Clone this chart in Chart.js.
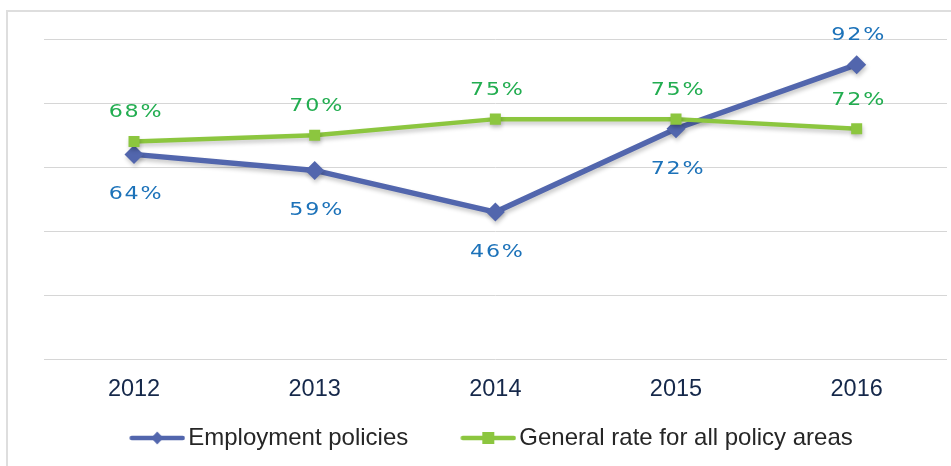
<!DOCTYPE html>
<html><head><meta charset="utf-8">
<script src="https://cdn.jsdelivr.net/npm/chart.js@4/dist/chart.umd.min.js"></script>
<style>
html,body{margin:0;padding:0;background:#fff;overflow:hidden;}
#wrap{position:relative;width:951px;height:466px;overflow:hidden;}
#frame{position:absolute;left:6px;top:10px;width:1000px;height:1000px;border-left:2px solid #dedede;border-top:2px solid #dedede;box-sizing:border-box;}
canvas{position:absolute;left:0;top:0;}
</style></head><body>
<div id="wrap"><div id="frame"></div><canvas id="c" width="951" height="466"></canvas></div>
<script>
// ---- data ----
const categories = ['2012', '2013', '2014', '2015', '2016'];
const employmentPolicies = [64, 59, 46, 72, 92];
const generalRate = [68, 70, 75, 75, 72];
const seriesNames = ['Employment policies', 'General rate for all policy areas'];
const yTicks = [0, 20, 40, 60, 80, 100];
// where each value label sits relative to its point
const employmentLabelSide = ['below', 'below', 'below', 'below', 'above'];
const generalLabelSide = ['above', 'above', 'above', 'above', 'above'];

const BLUE = '#5266ad', GREEN = '#8cc63f';
const BLUE_TXT = '#1c72b9', GREEN_TXT = '#22ad50';

function makeSymbol(color, shape, totalW, contentW) {
  const c = document.createElement('canvas');
  c.width = totalW; c.height = 20;
  const g = c.getContext('2d');
  const x0 = totalW - contentW + 2.5, x1 = totalW - 2.5, y = 10;
  g.strokeStyle = color; g.lineWidth = 4.5; g.lineCap = 'round';
  g.beginPath(); g.moveTo(x0, y); g.lineTo(x1, y); g.stroke();
  const cx = (x0 + x1) / 2;
  g.fillStyle = color;
  g.beginPath();
  if (shape === 'diamond') {
    g.moveTo(cx - 6, y); g.lineTo(cx, y - 6.5); g.lineTo(cx + 6, y); g.lineTo(cx, y + 6.5); g.closePath();
  } else {
    g.rect(cx - 6, y - 6, 12, 12);
  }
  g.fill();
  return c;
}
const LEG_BOX = 82, LEG_IMG = 100, LEG_CONTENT = 56, LEG_PAD = 17;
const legendSymbols = [makeSymbol(BLUE, 'diamond', LEG_IMG, LEG_CONTENT), makeSymbol(GREEN, 'square', LEG_IMG, LEG_CONTENT)];

const shadowPlugin = {
  id: 'lineShadow',
  beforeDatasetsDraw(chart) {
    const ctx = chart.ctx;
    ctx.save();
    ctx.shadowColor = 'rgba(0,0,0,0.22)';
    ctx.shadowBlur = 4;
    ctx.shadowOffsetX = 1;
    ctx.shadowOffsetY = 3;
  },
  afterDatasetsDraw(chart) {
    chart.ctx.restore();
  }
};

const labelPlugin = {
  id: 'valueLabels',
  afterDatasetsDraw(chart) {
    const ctx = chart.ctx;
    chart.data.datasets.forEach((ds, i) => {
      const meta = chart.getDatasetMeta(i);
      meta.data.forEach((pt, j) => {
        const side = ds.labelSide[j];
        const dy = side === 'above' ? -29 : 40;
        ctx.save();
        ctx.font = '18.5px "DejaVu Sans"';
        ctx.letterSpacing = '1.5px';
        ctx.textAlign = 'center';
        ctx.textBaseline = 'middle';
        ctx.fillStyle = ds.labelColor;
        ctx.translate(pt.x + 2, pt.y + dy);
        ctx.scale(1.2, 1);
        ctx.fillText(ds.data[j] + '%', 0, 0);
        ctx.restore();
      });
    });
  }
};

new Chart(document.getElementById('c'), {
  type: 'line',
  data: {
    labels: categories,
    datasets: [
      {
        label: seriesNames[0], data: employmentPolicies,
        borderColor: BLUE, backgroundColor: BLUE, borderWidth: 5.5,
        pointStyle: 'rectRot', pointRadius: 9.5, pointBorderWidth: 0,
        pointBackgroundColor: BLUE, tension: 0, order: 2,
        labelSide: employmentLabelSide, labelColor: BLUE_TXT
      },
      {
        label: seriesNames[1], data: generalRate,
        borderColor: GREEN, backgroundColor: GREEN, borderWidth: 4.5,
        pointStyle: 'rect', pointRadius: 7.8, pointBorderWidth: 0,
        pointBackgroundColor: GREEN, tension: 0, order: 1,
        labelSide: generalLabelSide, labelColor: GREEN_TXT
      }
    ]
  },
  options: {
    responsive: false,
    animation: false,
    devicePixelRatio: 1,
    layout: { autoPadding: false, padding: { left: 0, right: 4, top: 39, bottom: 6 } },
    plugins: {
      tooltip: { enabled: false },
      legend: {
        position: 'bottom',
        labels: {
          usePointStyle: true,
          pointStyleWidth: LEG_BOX,
          padding: LEG_PAD,
          color: '#262626',
          font: { family: 'Liberation Sans, Arial, sans-serif', size: 24 },
          generateLabels(chart) {
            const items = Chart.defaults.plugins.legend.labels.generateLabels(chart);
            items.sort((a, b) => a.datasetIndex - b.datasetIndex);
            items.forEach(it => { it.pointStyle = legendSymbols[it.datasetIndex]; });
            return items;
          }
        }
      }
    },
    scales: {
      x: {
        offset: true,
        grid: { display: false, drawTicks: false, offset: true },
        border: { display: false },
        ticks: {
          color: '#15284a', padding: 16,
          font: { family: 'Liberation Sans, Arial, sans-serif', size: 23.5 }
        },
        afterFit(scale) { scale.height = 49.5; scale.paddingLeft = 0; scale.paddingRight = 0; }
      },
      y: {
        min: 0, max: 100,
        afterBuildTicks(scale) { scale.ticks = yTicks.map(v => ({ value: v })); },
        grid: { color: '#d6d6d6', lineWidth: 1, drawTicks: false },
        border: { display: false },
        ticks: { display: false },
        afterFit(scale) { scale.width = 43.7; scale.paddingTop = 0; scale.paddingBottom = 0; }
      }
    }
  },
  plugins: [shadowPlugin, labelPlugin]
});
</script>
</body></html>
